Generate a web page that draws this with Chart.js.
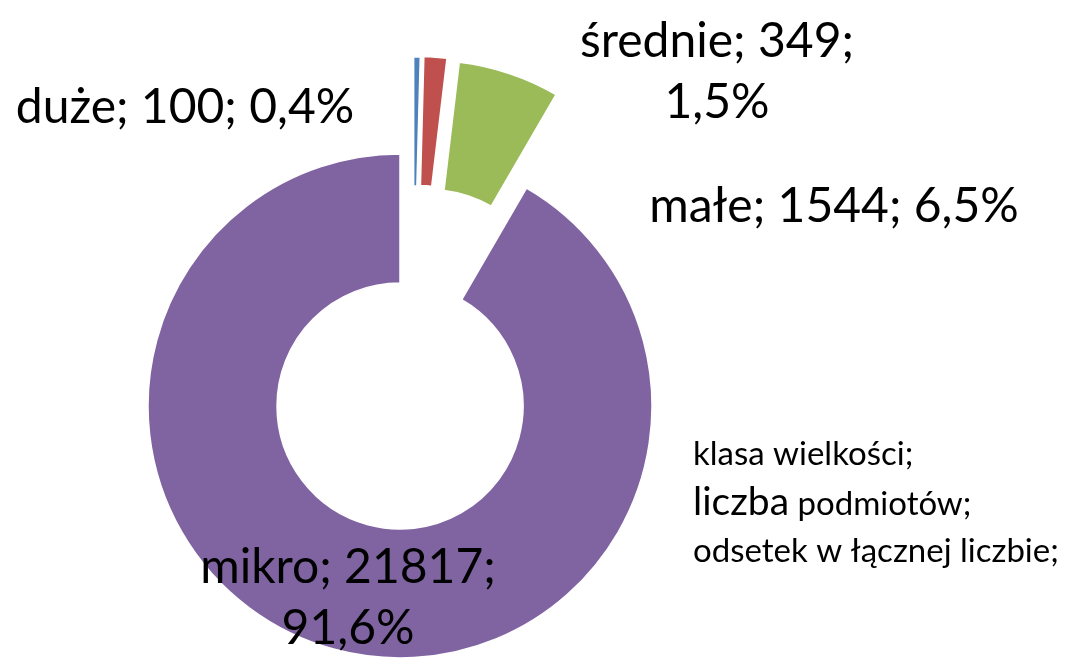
<!DOCTYPE html>
<html>
<head>
<meta charset="utf-8">
<script src="https://cdn.jsdelivr.net/npm/chart.js@4"></script>
<style>
  html, body { margin: 0; padding: 0; background: #fff; }
  #wrap { width: 1080px; height: 658px; position: relative; }
</style>
</head>
<body>
<div id="wrap"><canvas id="chart"></canvas></div>
<script>
// data
var categories = ['duże', 'średnie', 'małe', 'mikro'];
var counts = [100, 349, 1544, 21817];
var percents = ['0,4', '1,5', '6,5', '91,6'];
var legendLines = ['klasa wielkości;', 'liczba', ' podmiotów;', 'odsetek w łącznej liczbie;'];

// styling
var colors = ['#4F81BD', '#C0504D', '#9BBB59', '#8064A2'];
var explode = [98, 99, 98, 0];          // px
var explodeDir = [8, 10, 17.5, 0];      // degrees clockwise from top
var wrapLabel = [false, true, false, true];
var labelPos = [[185, 123], [717, 57], [834, 222], [348, 583]];
var FONT = 'Lato, "Noto Sans", sans-serif';

// move exploded slices outward (no ring enlargement like the built-in offset)
const explodePlugin = {
    id: 'explode',
    afterDatasetUpdate(chart, args) {
        args.meta.data.forEach((arc, i) => {
            const d = explode[i] || 0;
            const a = (explodeDir[i] - 90) * Math.PI / 180;
            arc.x += Math.cos(a) * d;
            arc.y += Math.sin(a) * d;
        });
    }
};

const labelPlugin = {
    id: 'sliceLabels',
    afterDraw(chart) {
        const ctx = chart.ctx;
        ctx.save();
        ctx.fillStyle = '#000';
        ctx.textBaseline = 'alphabetic';
        ctx.textAlign = 'center';
        ctx.font = '48px ' + FONT;
        categories.forEach((name, i) => {
            var lines = wrapLabel[i]
                ? [name + '; ' + counts[i] + ';', percents[i] + '%']
                : [name + '; ' + counts[i] + '; ' + percents[i] + '%'];
            lines.forEach((t, j) => ctx.fillText(t, labelPos[i][0], labelPos[i][1] + j * 61));
        });

        // description block on the right
        ctx.textAlign = 'left';
        var x = 693;
        ctx.font = '33px ' + FONT;
        ctx.fillText(legendLines[0], x, 465);
        ctx.font = '39px ' + FONT;
        ctx.fillText(legendLines[1], x, 515);
        var w = ctx.measureText(legendLines[1]).width;
        ctx.font = '33px ' + FONT;
        ctx.fillText(legendLines[2], x + w, 515);
        ctx.fillText(legendLines[3], x, 562);
        ctx.restore();
    }
};

const ctx = document.getElementById('chart').getContext('2d');
var chart = new Chart(ctx, {
    type: 'doughnut',
    data: {
        labels: categories,
        datasets: [{
            data: counts,
            backgroundColor: colors,
            borderColor: '#ffffff',
            borderWidth: 1.5
        }]
    },
    options: {
        responsive: true,
        maintainAspectRatio: false,
        animation: false,
        radius: 252,
        cutout: '48.8%',
        layout: {
            padding: { left: 0, right: 280, top: 154, bottom: 0 }
        },
        plugins: {
            legend: { display: false },
            tooltip: { enabled: false },
            title: { display: false }
        }
    },
    plugins: [explodePlugin, labelPlugin]
});
</script>
</body>
</html>
